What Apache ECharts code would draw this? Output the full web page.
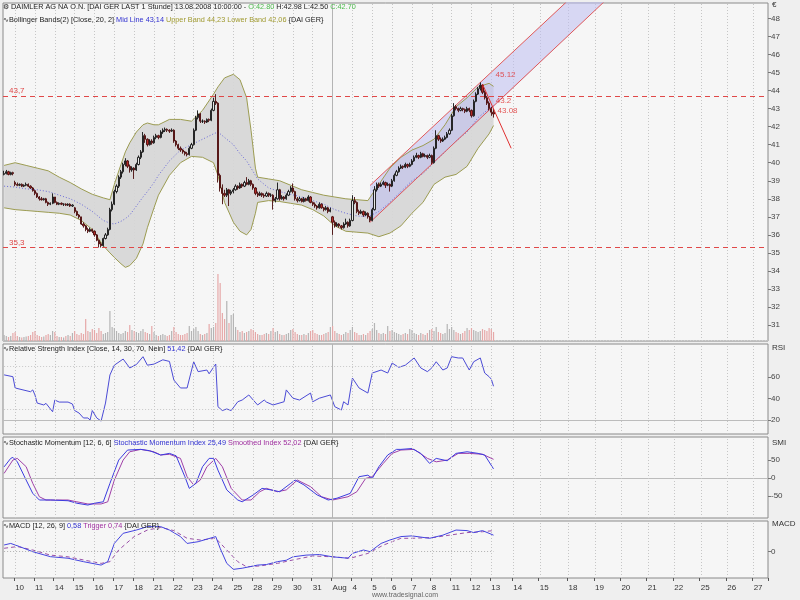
<!DOCTYPE html>
<html><head><meta charset="utf-8">
<script src="https://cdn.jsdelivr.net/npm/echarts@6/dist/echarts.min.js"></script>
<style>html,body{margin:0;padding:0;background:#efefef}#c{width:800px;height:600px}</style>
</head><body><div id="c"></div>
<script>
// ---------- x axis structure (hourly bars per trading day, then projection slots) ----------
const dayLabels = ['','10','11','14','15','16','17','18','21','22','23','24','25','28','29','30','31','Aug','4','5','6','7','8','11','12','13','14','15','18','19','20','21','22','25','26','27'];
const daySlots  = [5,9,9,9,9,9,9,9,9,9,9,9,9,9,9,9,9,9,9,9,9,9,9,9,9,10,12,13,12,12,12,12,12,12,12,7];

// ---------- price bars [open, high, low, close] ----------
const priceBars = [
[39.35,39.55,39.30,39.40],[39.40,39.60,39.35,39.50],[39.50,39.55,39.30,39.35],[39.35,39.50,39.30,39.45],[39.45,39.50,39.30,39.40],
[38.90,39.00,38.70,38.80],[38.80,38.90,38.70,38.75],[38.75,38.85,38.70,38.80],[38.80,38.85,38.65,38.70],[38.70,38.80,38.65,38.75],[38.75,38.90,38.70,38.80],[38.80,38.85,38.65,38.70],[38.70,38.75,38.55,38.60],[38.60,38.65,38.40,38.45],
[38.45,38.50,38.20,38.30],[38.30,38.35,38.05,38.10],[38.10,38.15,37.90,38.00],[38.00,38.10,37.90,37.95],[37.95,38.05,37.90,38.00],[38.00,38.05,37.75,37.80],[37.80,37.85,37.60,37.70],[37.70,37.80,37.65,37.75],[37.75,38.30,37.70,38.10],
[38.10,38.10,37.75,37.80],[37.80,37.85,37.65,37.70],[37.70,37.80,37.65,37.75],[37.75,37.80,37.65,37.70],[37.70,37.75,37.60,37.70],[37.70,37.75,37.60,37.65],[37.65,37.75,37.60,37.70],[37.70,37.75,37.55,37.60],[37.60,37.70,37.55,37.65],
[37.50,37.55,37.20,37.30],[37.30,37.35,37.05,37.10],[37.10,37.15,36.90,37.00],[37.00,37.00,36.55,36.60],[36.60,36.70,36.40,36.50],[36.50,36.55,36.20,36.30],[36.30,36.40,36.10,36.20],[36.20,36.40,36.15,36.30],[36.30,36.35,36.10,36.20],
[36.20,36.25,35.90,36.00],[36.00,36.05,35.65,35.70],[35.70,35.75,35.30,35.50],[35.50,35.60,35.30,35.40],[35.40,35.85,35.35,35.80],[35.80,36.10,35.75,36.00],[36.00,36.40,35.95,36.30],[36.30,37.50,36.25,37.40],[37.40,37.85,37.30,37.70],
[37.70,38.50,37.65,38.40],[38.40,38.80,38.30,38.70],[38.70,39.30,38.60,39.20],[39.20,39.60,39.10,39.50],[39.50,40.00,39.40,39.90],[39.90,40.25,39.80,40.10],[40.10,40.15,39.70,39.80],[39.80,39.90,39.45,39.60],[39.60,39.80,39.50,39.70],
[39.70,39.75,39.10,39.60],[39.60,40.00,39.55,39.90],[39.90,40.40,39.85,40.30],[40.30,40.70,40.20,40.60],[40.60,41.70,40.55,41.50],[41.50,41.60,41.10,41.30],[41.30,41.35,40.90,41.00],[41.00,41.30,40.95,41.20],[41.20,41.30,41.00,41.10],
[41.10,41.50,41.05,41.40],[41.40,41.60,41.30,41.50],[41.50,41.55,41.30,41.40],[41.40,41.80,41.35,41.70],[41.70,41.90,41.60,41.80],[41.80,41.95,41.70,41.85],[41.85,41.90,41.70,41.80],[41.80,41.85,41.65,41.75],[41.75,41.90,41.70,41.80],
[41.80,41.85,41.10,41.20],[41.20,41.25,40.90,41.00],[41.00,41.05,40.70,40.80],[40.80,40.90,40.60,40.70],[40.70,40.75,40.50,40.60],[40.60,40.65,40.40,40.50],[40.50,40.60,40.35,40.45],[40.45,40.90,40.40,40.80],[40.80,41.10,40.75,41.00],
[41.00,41.90,40.95,41.80],[41.80,42.60,41.75,42.50],[42.50,42.90,42.40,42.70],[42.70,42.75,42.20,42.30],[42.30,42.40,42.20,42.30],[42.30,42.35,42.15,42.25],[42.25,42.45,42.20,42.40],[42.40,42.45,42.25,42.35],[42.35,43.00,42.30,42.90],
[42.90,43.60,42.85,43.40],[43.40,43.80,43.20,43.30],[43.30,43.35,38.90,39.30],[39.30,39.40,38.40,38.60],[38.60,38.80,37.70,38.30],[38.30,38.50,38.10,38.20],[38.20,38.60,38.10,38.50],[38.50,38.55,37.60,38.30],[38.30,38.50,38.20,38.40],
[38.40,38.60,38.30,38.50],[38.50,38.80,38.45,38.70],[38.70,38.75,38.50,38.60],[38.60,38.90,38.55,38.80],[38.80,38.85,38.60,38.70],[38.70,39.00,38.65,38.90],[38.90,39.20,38.75,38.80],[38.80,39.10,38.75,39.00],[39.00,39.05,38.70,38.80],
[38.80,38.85,38.50,38.60],[38.60,38.65,38.20,38.30],[38.30,38.40,38.10,38.20],[38.20,38.40,38.15,38.30],[38.30,38.35,38.10,38.20],[38.20,38.30,38.05,38.15],[38.15,38.40,38.10,38.30],[38.30,38.35,38.10,38.20],[38.20,38.30,38.10,38.20],
[38.20,38.25,37.40,37.90],[37.90,38.10,37.80,38.00],[38.00,38.90,37.95,38.50],[38.50,38.55,37.90,38.00],[38.00,38.20,37.95,38.10],[38.10,38.15,37.90,38.00],[38.00,38.30,37.95,38.20],[38.20,38.50,38.15,38.40],[38.40,38.70,38.35,38.60],
[38.60,38.85,38.30,38.40],[38.40,38.45,37.90,38.00],[38.00,38.10,37.80,37.90],[37.90,38.10,37.85,38.00],[38.00,38.05,37.80,37.85],[37.85,38.10,37.80,38.00],[38.00,38.05,37.85,37.90],[37.90,38.20,37.85,38.10],[38.10,38.15,37.75,37.80],
[37.80,37.85,37.60,37.70],[37.70,37.80,37.50,37.60],[37.60,37.65,37.40,37.50],[37.50,37.80,37.45,37.70],[37.70,37.75,37.45,37.50],[37.50,37.55,37.30,37.40],[37.40,37.60,37.35,37.50],[37.50,37.55,37.20,37.30],[37.30,37.50,37.25,37.40],
[37.00,37.05,36.00,36.70],[36.70,36.80,36.40,36.50],[36.50,36.70,36.45,36.60],[36.60,36.65,36.40,36.50],[36.50,36.55,36.30,36.40],[36.40,36.70,36.35,36.60],[36.60,36.90,36.55,36.70],[36.70,36.75,36.40,36.50],[36.50,36.90,36.45,36.80],
[36.80,38.20,36.75,37.90],[37.90,38.10,37.70,37.80],[37.80,37.85,37.20,37.30],[37.30,37.40,37.10,37.20],[37.20,37.40,37.15,37.30],[37.30,37.35,37.00,37.10],[37.10,37.30,37.05,37.20],[37.20,37.25,36.90,37.00],[37.00,37.05,36.70,36.80],
[36.80,37.50,36.75,37.40],[37.40,38.70,37.35,38.50],[38.50,38.90,38.40,38.80],[38.80,38.90,38.60,38.70],[38.70,38.90,38.65,38.80],[38.80,39.00,38.75,38.90],[38.90,38.95,38.60,38.75],[38.75,38.90,38.70,38.80],[38.80,38.85,38.40,38.70],
[38.70,39.10,38.65,39.00],[39.00,39.40,38.95,39.30],[39.30,39.60,39.25,39.50],[39.50,39.80,39.45,39.70],[39.70,39.90,39.65,39.80],[39.80,39.85,39.65,39.75],[39.75,40.00,39.70,39.90],[39.90,39.95,39.70,39.80],[39.80,40.00,39.75,39.90],
[39.90,40.20,39.85,40.10],[40.10,40.40,40.05,40.30],[40.30,40.55,40.25,40.40],[40.40,40.45,40.20,40.30],[40.30,40.60,40.25,40.50],[40.50,40.55,40.30,40.35],[40.35,40.50,40.30,40.40],[40.40,40.45,40.20,40.30],[40.30,40.50,40.25,40.40],
[40.40,40.45,39.90,40.00],[40.00,40.90,39.95,40.80],[40.80,41.80,40.75,41.50],[41.50,41.55,41.20,41.30],[41.30,41.40,41.10,41.20],[41.20,41.40,41.15,41.30],[41.30,41.50,41.25,41.40],[41.40,41.70,41.35,41.60],[41.60,41.90,41.55,41.80],
[41.80,42.70,41.75,42.60],[42.60,43.30,42.55,43.10],[43.10,43.20,42.90,43.00],[43.00,43.05,42.80,42.90],[42.90,43.10,42.85,43.00],[43.00,43.05,42.85,42.95],[42.95,43.00,42.75,42.85],[42.85,43.10,42.80,43.00],[43.00,43.05,42.80,42.90],
[42.90,42.95,42.50,42.60],[42.60,43.50,42.55,43.40],[43.40,43.90,43.35,43.80],[43.80,44.20,43.75,44.10],[44.10,44.45,44.00,44.30],[44.30,44.35,43.80,43.90],[43.90,44.00,43.50,43.60],[43.60,43.70,43.20,43.30],[43.30,43.40,42.90,43.00],
[43.00,43.10,42.60,42.80],[42.80,42.98,42.50,42.70]
];

// ---------- volume (thousand shares per bar) ----------
const volumes = [
300,250,200,250,400,
450,250,200,180,200,220,250,300,450,
500,300,250,200,220,300,350,300,500,
450,250,200,200,180,250,300,250,400,
500,350,300,400,350,1100,500,450,600,
550,400,650,500,350,400,450,1500,700,
650,500,400,350,400,500,450,800,550,
500,450,400,500,600,450,400,350,750,
450,300,250,300,350,300,250,300,500,
700,450,350,300,300,350,400,750,500,
600,700,500,350,300,350,400,850,650,
700,900,3350,2900,1400,1100,2000,900,1300,
1350,700,550,450,500,400,450,500,600,
550,450,350,300,300,350,400,350,500,
650,450,500,350,300,300,350,400,550,
600,450,350,300,300,350,300,400,500,
550,400,350,300,300,350,400,450,700,
750,500,400,350,300,350,450,400,550,
700,450,400,300,300,350,300,400,500,
600,900,550,400,350,400,350,750,500,
550,450,400,350,300,350,400,350,600,
550,400,350,300,400,350,300,400,550,
600,500,700,450,400,350,400,850,600,
700,550,450,400,350,400,500,650,550,
650,550,500,450,500,600,550,500,650,
600,450
];

// ---------- Bollinger Bands (20, 2) read at sample bars ----------
const bbIdx   = [0,5,10,15,20,25,30,35,40,45,48,50,53,55,57,60,63,65,68,70,75,80,85,90,95,97,100,104,107,110,112,114,115,120,125,130,135,140,145,150,155,160,165,170,175,180,185,190,195,200,205,210,215,220,222];
const bbUpper = [39.85,40.0,39.85,39.7,39.55,39.2,38.9,38.55,38.25,38.05,37.95,38.8,39.9,40.6,41.1,41.7,42.1,42.2,42.1,42.1,42.4,42.4,42.3,42.9,43.8,44.2,44.7,44.9,44.6,43.6,41.8,39.7,39.2,39.1,39.0,38.75,38.5,38.35,38.2,38.1,38.0,37.95,37.9,38.8,39.7,40.3,40.7,40.95,41.3,42.1,43.1,43.6,44.2,44.4,44.23];
const bbMid   = [38.7,38.65,38.55,38.5,38.4,38.2,38.0,37.7,37.3,36.8,36.65,36.6,36.75,36.9,37.1,37.6,38.1,38.4,38.9,39.3,40.1,40.7,41.0,41.3,41.6,41.7,41.4,41.0,40.5,40.1,39.7,39.3,39.1,38.6,38.4,38.25,38.1,37.9,37.7,37.4,37.2,37.05,37.0,37.3,37.8,38.4,39.0,39.4,40.0,40.6,41.2,41.7,42.5,43.0,43.14];
const bbLower = [37.5,37.4,37.35,37.3,37.25,37.2,37.1,36.8,36.3,35.4,35.0,34.75,34.4,34.2,34.3,34.7,35.5,36.4,37.5,38.2,39.3,40.0,40.35,40.3,40.0,39.3,37.8,36.7,36.2,36.0,36.3,37.2,37.8,37.9,37.85,37.75,37.65,37.4,37.05,36.5,36.2,36.15,36.1,35.9,36.1,36.5,37.2,37.8,38.8,39.2,39.35,39.8,40.8,41.6,42.06];

// ---------- trend channel and drawn lines ----------
const chIdx = [166,222,255,272];
const chUpper = [38.74,45.12,48.9,null];
const chLower = [36.70,43.08,null,48.9];
const downLine = [[217,44.35],[230,40.8]];
const levels = [43.7, 35.3];
const levelLabels = ['43,7','35,3'];
const chLabels = [[222,45.12,'45.12'],[222,43.2,'43.2'],[222,43.08,'43.08']];

// ---------- RSI (14) ----------
const rsiIdx = [0,4,5,12,13,14,15,18,19,22,23,25,29,31,32,34,36,38,39,40,42,44,46,48,50,54,57,60,63,65,68,72,75,77,80,83,86,88,92,93,96,97,99,101,103,106,108,111,113,115,118,119,122,127,128,131,134,139,140,143,148,150,153,154,156,158,161,165,167,171,174,176,179,182,186,189,192,194,196,199,201,203,206,208,211,213,216,218,220,221,222];
const rsiVal = [62,60.3,49.8,46.3,48,43.3,35.8,34,35.5,27.7,38.6,36.7,36.7,34.9,28.8,26.5,21.9,21.9,20,28.8,22,19,35.8,61.9,71,76.7,68.4,71.6,78.9,71,72,76,74.5,57.2,49.8,49.8,74.2,65,66.5,63,72.1,32.4,28.8,30.3,28.8,37,38.6,43.3,38.6,34,38.6,36.7,34,37,48,40.3,38.6,45.1,37,40.3,43.3,32.4,29.3,37,34,59,49.8,45.1,63.7,66.5,63.7,73,69,71,77.7,68.4,65,68.4,74.2,66.5,68.4,78.9,77.7,77.7,66.5,74.2,77.7,63.7,60.3,58,51.42];

// ---------- Stochastic Momentum (12, 6, 6) ----------
const smiIdx = [0,3,4,6,10,13,16,21,29,33,38,41,45,48,52,56,62,66,71,75,78,82,84,87,90,93,95,97,101,106,108,113,117,121,125,130,132,136,142,147,151,157,161,165,167,170,174,178,180,185,189,193,196,201,205,210,215,218,222];
const smiVal = [31,54.6,57.4,45,-5.6,-42.6,-61,-61,-63,-70,-75,-70,-66,-14.8,50,77.8,79.6,76,64,68.5,62,3.7,-28.7,-14.8,31.5,54.6,54.6,22,-33,-61,-66,-47,-28.7,-33,-38,-14.8,-5.6,-19,-47,-61,-56,-42.6,3.7,8,-1,31.5,64,79.6,79.6,82,68.5,40.7,54.6,48,68.5,73,68.5,64,25.49];
const smoIdx = [0,4,6,10,13,16,19,29,33,38,44,47,50,54,57,62,68,71,75,80,83,86,89,92,96,99,103,108,112,116,119,124,128,133,139,144,149,156,160,164,167,172,176,180,186,192,196,201,206,211,217,222];
const smoVal = [13,50,54.6,31.5,-14.8,-52,-61,-61,-66,-72,-72,-66,-5.6,50,73,79.6,73,64,66,54.6,3.7,-19,-5.6,31.5,54.6,31.5,-28.7,-61,-61,-38,-28.7,-38,-33,-5.6,-24,-52,-61,-52,-38,-1,3.7,40.7,68.5,77.8,79.6,54.6,45,50,68.5,68.5,66,52.02];

// ---------- MACD (12, 26, 9) ----------
const macdIdx = [0,3,7,13,21,29,36,44,47,50,54,60,65,71,75,80,83,88,92,96,98,101,104,108,115,119,124,128,131,137,143,149,156,158,163,166,171,175,180,185,193,199,205,210,213,217,222];
const macdVal = [0.235,0.29,0.18,0.0,-0.175,-0.23,-0.35,-0.47,-0.35,0.29,0.645,0.76,0.88,0.88,0.76,0.53,0.29,0.35,0.44,0.53,0.12,-0.41,-0.62,-0.58,-0.47,-0.45,-0.35,-0.3,-0.18,-0.12,-0.1,-0.18,-0.23,-0.06,0.06,0.0,0.29,0.41,0.53,0.555,0.47,0.58,0.76,0.74,0.67,0.74,0.58];
const trigIdx = [0,6,13,21,29,36,44,48,52,59,65,71,77,83,89,96,101,106,110,116,124,131,140,149,157,165,172,180,185,195,202,210,217,222];
const trigVal = [0.12,0.18,0.06,-0.12,-0.18,-0.29,-0.41,-0.35,0.06,0.53,0.76,0.85,0.74,0.47,0.41,0.47,0.06,-0.35,-0.53,-0.5,-0.41,-0.29,-0.15,-0.18,-0.23,-0.06,0.23,0.47,0.47,0.5,0.58,0.67,0.7,0.74];

// ---------- axis tick labels ----------
const priceTicks = [31,32,33,34,35,36,37,38,39,40,41,42,43,44,45,46,47,48];
const rsiTicks = [20,40,60];
const smiTicks = [-50,0,50];
const macdTicks = [0];

// ================= build =================
const categories = [], startFlag = [];
daySlots.forEach((n, d) => { for (let s = 0; s < n; s++) { categories.push(d + ':' + s); startFlag.push(s === 0 && dayLabels[d] !== ''); } });
const augCat = dayLabels.indexOf('Aug') + ':0';
const dayStartCats = categories.filter((c, i) => startFlag[i] && c !== augCat);
const lastIdx = priceBars.length - 1;
const pair = (xs, ys) => xs.map((x, i) => [x, ys[i]]);
const fmt = v => v.toFixed(2).replace('.', ',');
const last = priceBars[lastIdx];

const F = 'Liberation Sans, Arial, sans-serif';
const HF = '7.3px ' + F;
const GRID_BG = '#f6f6f6';
const grids = [
  {left: 3, right: 32, top: 3, height: 338},
  {left: 3, right: 32, top: 344, height: 90},
  {left: 3, right: 32, top: 437, height: 81},
  {left: 3, right: 32, top: 521, height: 57}
].map(g => Object.assign(g, {show: true, backgroundColor: GRID_BG, borderColor: '#8a8a8a', borderWidth: 1, containLabel: false}));

function xAx(gi, show) {
  const iv = (i) => startFlag[i];
  return {type: 'category', gridIndex: gi, data: categories, boundaryGap: true,
    axisLine: {show: false, onZero: false},
    axisTick: {show: show, interval: iv, length: 3, lineStyle: {color: '#555'}},
    axisLabel: {show: show, interval: iv, align: 'left', margin: 6, fontSize: 8, fontFamily: F, color: '#333',
      formatter: (v) => { const p = v.split(':'); return p[1] === '0' ? dayLabels[+p[0]] : ''; }},
    splitLine: {show: false}};
}
function yAx(gi, min, max, ticks) {
  return {type: 'value', gridIndex: gi, position: 'right', min: min, max: max,
    axisLine: {show: false, onZero: false}, splitLine: {show: false},
    axisTick: {show: true, customValues: ticks, length: 3, lineStyle: {color: '#777'}},
    axisLabel: {customValues: ticks, fontSize: 8, fontFamily: F, color: '#444', margin: 3}};
}
const hLine = (v, color, type) => ({yAxis: v, lineStyle: {color: color, type: type, width: 1}, label: {show: false}});
const monthLine = {xAxis: augCat, lineStyle: {color: '#b4b4b4', type: 'solid', width: 1}, label: {show: false}};
const dayLines = dayStartCats.map(c => ({xAxis: c, lineStyle: {color: '#c6c6c6', type: [1, 2], width: 1}, label: {show: false}}));
const mlBase = {silent: true, symbol: ['none', 'none'], animation: false, precision: 4};

const priceGridLines = priceTicks.map(v => hLine(v, [35, 40, 45].includes(v) ? '#c2c2c2' : '#d2d2d2', [35, 40, 45].includes(v) ? 'solid' : [1, 2]));
const levelLines = levels.map((v, i) => ({yAxis: v, lineStyle: {color: '#e04848', type: [5, 4], width: 1},
  label: {show: true, position: 'insideStartTop', formatter: levelLabels[i], color: '#e04848', fontSize: 8, fontFamily: F, distance: [6, 1]}}));

const polySeries = (gi, pointsFn, style, z) => ({type: 'custom', xAxisIndex: gi, yAxisIndex: gi === 0 ? 0 : gi + 1, z: z, silent: true,
  data: [[0, 0]], renderItem: (p, api) => ({type: 'polygon', shape: {points: pointsFn(api)}, style: style})});

const bandPoints = (api) => {
  const pts = bbIdx.map((x, i) => api.coord([x, bbUpper[i]]));
  for (let i = bbIdx.length - 1; i >= 0; i--) pts.push(api.coord([bbIdx[i], bbLower[i]]));
  return pts;
};
const chanPoints = (api) => [api.coord([chIdx[0], chLower[0]]), api.coord([chIdx[1], chLower[1]]), api.coord([chIdx[3], chLower[3]]),
  api.coord([chIdx[2], chUpper[2]]), api.coord([chIdx[1], chUpper[1]]), api.coord([chIdx[0], chUpper[0]])];

const lineS = (gi, yi, data, color, extra) => Object.assign({type: 'line', xAxisIndex: gi, yAxisIndex: yi, data: data, symbol: 'none',
  lineStyle: {color: color, width: 1}, silent: true, z: 4}, extra || {});

const option = {
  backgroundColor: '#efefef',
  animation: false,
  grid: grids,
  xAxis: [xAx(0, false), xAx(1, false), xAx(2, false), xAx(3, true)],
  yAxis: [
    yAx(0, 30.12, 48.85, priceTicks),
    {type: 'value', gridIndex: 0, min: 0, max: 16900, show: false, splitLine: {show: false}},
    yAx(1, 7.0, 90.7, rsiTicks),
    yAx(2, -111, 114, smiTicks),
    yAx(3, -0.923, 1.077, macdTicks)
  ],
  series: [
    polySeries(0, bandPoints, {fill: '#d6d6d6', stroke: 'none', opacity: 0.9}, 1),
    polySeries(0, chanPoints, {fill: 'rgba(190,190,240,0.55)', stroke: 'none'}, 2),
    {type: 'bar', xAxisIndex: 0, yAxisIndex: 1, barWidth: 1.2, silent: true, z: 2,
      data: volumes.map((v, i) => ({value: v, itemStyle: {color: priceBars[i][3] >= priceBars[i][0] ? '#b4b4b4' : '#e6a8a8'}})),
      markLine: Object.assign({}, mlBase, {z: 0, data: priceGridLines.concat(dayLines, [monthLine])})},
    lineS(0, 0, pair(bbIdx, bbUpper), '#9c9c52', {z: 3}),
    lineS(0, 0, pair(bbIdx, bbLower), '#9c9c52', {z: 3}),
    lineS(0, 0, pair(bbIdx, bbMid), '#6a6ad8', {z: 3, lineStyle: {color: '#6a6ad8', width: 1, type: [1, 2]}}),
    lineS(0, 0, [[chIdx[0], chUpper[0]], [chIdx[2], chUpper[2]]], '#e05858', {z: 4}),
    lineS(0, 0, [[chIdx[0], chLower[0]], [chIdx[3], chLower[3]]], '#e05858', {z: 4}),
    lineS(0, 0, downLine, '#e03030', {z: 6}),
    {type: 'candlestick', xAxisIndex: 0, yAxisIndex: 0, barWidth: 1.7, z: 5, silent: true,
      data: priceBars.map(b => [b[0], b[3], b[2], b[1]]),
      itemStyle: {color: '#e8e8e8', color0: '#b82a26', borderColor: '#111111', borderColor0: '#4a0c0c', borderWidth: 0.9},
      markLine: Object.assign({}, mlBase, {data: levelLines})},
    {type: 'scatter', xAxisIndex: 0, yAxisIndex: 0, symbolSize: 0, z: 7, silent: true,
      data: chLabels.map((d, i) => ({value: [d[0], d[1]], label: {show: true, formatter: d[2], position: 'inside',
        offset: [[12, 4], [10, -4], [14, 4]][i], color: '#e03030', fontSize: 8, fontFamily: F}}))},
    lineS(1, 2, pair(rsiIdx, rsiVal), '#4b4bd6', {
      markLine: Object.assign({}, mlBase, {data: [hLine(20, '#bcbcbc', 'solid'), monthLine].concat(dayLines, [
        [{coord: [0, 30], lineStyle: {color: '#c8c8c8', type: [1, 2]}}, {coord: [lastIdx, 30]}],
        [{coord: [0, 70], lineStyle: {color: '#c8c8c8', type: [1, 2]}}, {coord: [lastIdx, 70]}]])})}),
    lineS(2, 3, pair(smoIdx, smoVal), '#a040a8', {
      markLine: Object.assign({}, mlBase, {data: [hLine(0, '#bcbcbc', 'solid'), monthLine].concat(dayLines)})}),
    lineS(2, 3, pair(smiIdx, smiVal), '#3c3ce0'),
    lineS(3, 4, pair(trigIdx, trigVal), '#9a50a8', {lineStyle: {color: '#9a50a8', width: 1, type: [4, 3]},
      markLine: Object.assign({}, mlBase, {data: [monthLine].concat(dayLines, [
        [{coord: [0, 0], lineStyle: {color: '#b0b0b0', type: [1, 2]}}, {coord: [lastIdx, 0]}]])})}),
    lineS(3, 4, pair(macdIdx, macdVal), '#4444e0')
  ],
  graphic: [
    {type: 'text', left: 3, top: 3, z: 100, style: {font: HF, fill: '#222',
      text: '\u2699 DAIMLER AG NA O.N. [DAI GER LAST 1 Stunde] 13.08.2008 10:00:00 - {g|O:' + last[0].toFixed(2) + '} H:' + last[1].toFixed(2) + ' L:' + last[2].toFixed(2) + ' {g|C:' + last[3].toFixed(2) + '}',
      rich: {g: {fill: '#4cbb4c', font: HF}}}},
    {type: 'text', left: 3, top: 16, z: 100, style: {font: HF, fill: '#222',
      text: '\u223FBollinger Bands(2) [Close, 20, 2] {b|Mid Line ' + fmt(bbMid[bbMid.length - 1]) + '} {o|Upper Band ' + fmt(bbUpper[bbUpper.length - 1]) + ' Lower Band ' + fmt(bbLower[bbLower.length - 1]) + '} {DAI GER}',
      rich: {b: {fill: '#3030d0', font: HF}, o: {fill: '#a09a30', font: HF}}}},
    {type: 'text', left: 3, top: 345, z: 100, style: {font: HF, fill: '#222',
      text: '\u223FRelative Strength Index [Close, 14, 30, 70, Nein] {b|' + fmt(rsiVal[rsiVal.length - 1]) + '} {DAI GER}',
      rich: {b: {fill: '#3030d0', font: HF}}}},
    {type: 'text', left: 3, top: 439, z: 100, style: {font: HF, fill: '#222',
      text: '\u223FStochastic Momentum [12, 6, 6] {b|Stochastic Momentum Index ' + fmt(smiVal[smiVal.length - 1]) + '} {p|Smoothed Index ' + fmt(smoVal[smoVal.length - 1]) + '} {DAI GER}',
      rich: {b: {fill: '#3030d0', font: HF}, p: {fill: '#a030a0', font: HF}}}},
    {type: 'text', left: 3, top: 522, z: 100, style: {font: HF, fill: '#222',
      text: '\u223FMACD [12, 26, 9] {b|' + fmt(macdVal[macdVal.length - 1]) + '} {p|Trigger ' + fmt(trigVal[trigVal.length - 1]) + '} {DAI GER}',
      rich: {b: {fill: '#3030d0', font: HF}, p: {fill: '#a030a0', font: HF}}}},
    {type: 'text', left: 772, top: 1, style: {text: '\u20AC', font: '8px ' + F, fill: '#333'}},
    {type: 'text', left: 772, top: 344, style: {text: 'RSI', font: '8px ' + F, fill: '#333'}},
    {type: 'text', left: 772, top: 439, style: {text: 'SMI', font: '8px ' + F, fill: '#333'}},
    {type: 'text', left: 772, top: 520, style: {text: 'MACD', font: '8px ' + F, fill: '#333'}},
    {type: 'text', left: 372, top: 592, style: {text: 'www.tradesignal.com', font: '7px ' + F, fill: '#666'}}
  ]
};
echarts.init(document.getElementById('c')).setOption(option);
</script></body></html>
